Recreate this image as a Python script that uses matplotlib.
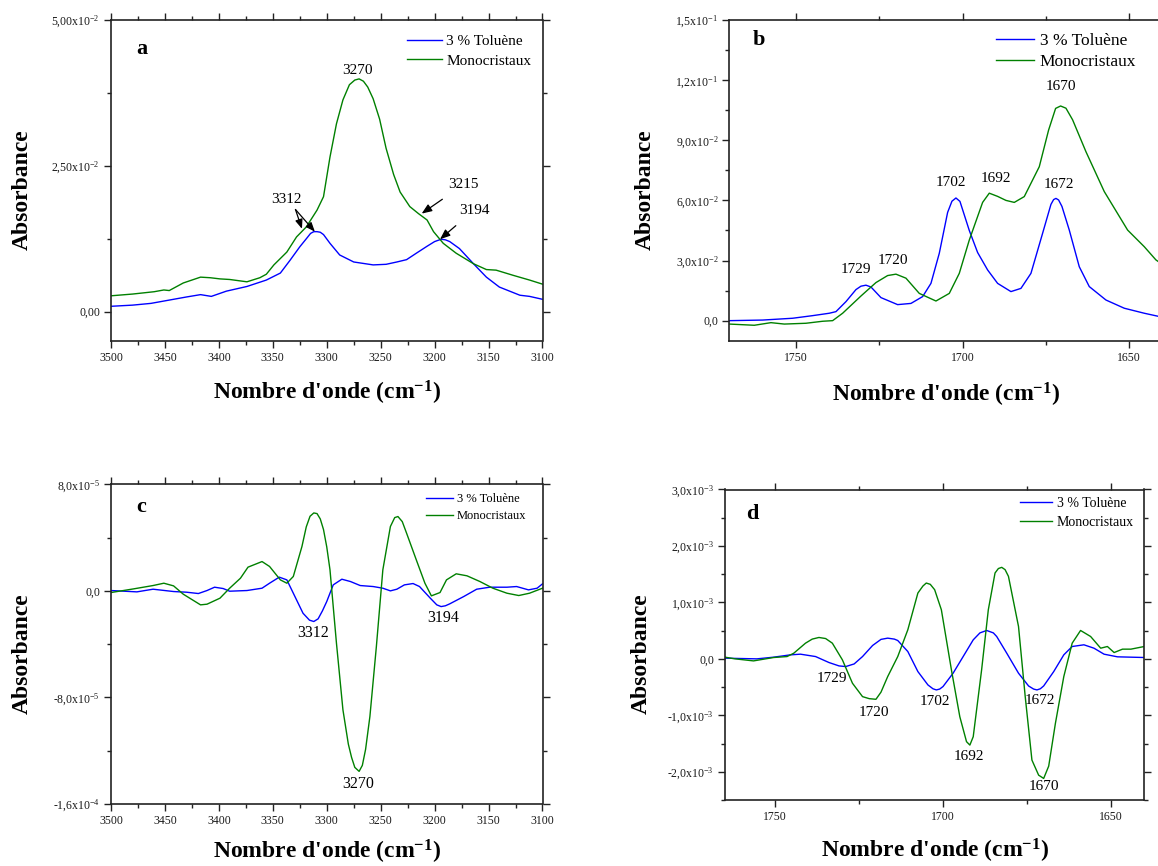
import matplotlib
matplotlib.use("Agg")
import matplotlib.pyplot as plt
from matplotlib.ticker import MultipleLocator
from matplotlib.lines import Line2D

plt.rcParams['font.family'] = ['Liberation Serif', 'DejaVu Serif']
plt.rcParams['mathtext.fontset'] = 'custom'
plt.rcParams['mathtext.rm'] = 'Liberation Serif'
plt.rcParams['mathtext.bf'] = 'Liberation Serif:bold'
plt.rcParams['mathtext.default'] = 'regular'

# ---------------- data ----------------
series_labels = ["3 % Toluène", "Monocristaux"]

# (a) N-H stretching region, absorbance
a_wn_tol = [3500, 3480, 3463, 3442, 3430, 3417, 3407, 3393, 3374, 3356, 3343, 3334,
            3325, 3318, 3315, 3312, 3309, 3306, 3303, 3297, 3288, 3275, 3257, 3245,
            3235, 3226, 3217, 3207, 3200, 3194, 3190, 3186, 3177, 3164, 3152, 3140,
            3121, 3112, 3100]
a_abs_tol = [0.0009, 0.0011, 0.0014, 0.0021, 0.0025, 0.0029, 0.0026, 0.0035, 0.0043,
             0.0054, 0.0066, 0.0088, 0.0111, 0.0127, 0.0134, 0.0137, 0.0137, 0.0136,
             0.0132, 0.0117, 0.0097, 0.0085, 0.0080, 0.0081, 0.0085, 0.0089, 0.0100,
             0.0112, 0.0120, 0.0124, 0.0123, 0.0120, 0.0108, 0.0082, 0.0059, 0.0042,
             0.0028, 0.0026, 0.0021]
a_wn_mono = [3500, 3480, 3460, 3451, 3446, 3433, 3417, 3408, 3399, 3390, 3374, 3362,
             3356, 3349, 3337, 3328, 3319, 3309, 3303, 3297, 3291, 3285, 3279, 3274,
             3270, 3266, 3262, 3257, 3251, 3245, 3238, 3232, 3223, 3215, 3207, 3201,
             3192, 3180, 3164, 3152, 3143, 3127, 3112, 3100]
a_abs_mono = [0.0027, 0.0030, 0.0034, 0.0037, 0.0036, 0.0049, 0.0059, 0.0058, 0.0056,
              0.0055, 0.0051, 0.0058, 0.0064, 0.0080, 0.0102, 0.0128, 0.0145, 0.0174,
              0.0197, 0.0265, 0.0322, 0.0363, 0.0389, 0.0397, 0.0399, 0.0395, 0.0385,
              0.0365, 0.0330, 0.0280, 0.0235, 0.0205, 0.0180, 0.0168, 0.0157, 0.0137,
              0.0117, 0.0100, 0.0082, 0.0072, 0.0071, 0.0062, 0.0054, 0.0047]

# (b) C=O stretching region, absorbance
b_wn_tol = [1770, 1760, 1751, 1745, 1740, 1738, 1735, 1732, 1730.5, 1729, 1727.5, 1724.5,
            1719.5, 1715.5, 1712, 1709.5, 1707, 1704.5, 1703.2, 1702, 1700.8, 1698,
            1695.5, 1692.5, 1689.5, 1685.5, 1682.5, 1679.5, 1676, 1673.5, 1672.7, 1672,
            1671.2, 1670.2, 1668, 1665, 1662, 1657, 1651.5, 1645.5, 1640]
b_abs_tol = [0.0, 0.0003, 0.0012, 0.0025, 0.0037, 0.0045, 0.0095, 0.0155, 0.0172, 0.0177,
             0.0168, 0.0115, 0.0080, 0.0086, 0.0120, 0.0186, 0.0336, 0.0540, 0.0596,
             0.0612, 0.0595, 0.0450, 0.0340, 0.0253, 0.0186, 0.0145, 0.0161, 0.0236,
             0.0436, 0.0580, 0.0604, 0.0610, 0.0602, 0.0570, 0.0452, 0.0269, 0.0170,
             0.0103, 0.0062, 0.0037, 0.0017]
b_wn_mono = [1770, 1762.5, 1757.5, 1753.5, 1747, 1742, 1739, 1736, 1730.5, 1726, 1722.5,
             1720, 1717, 1713, 1708, 1704, 1701, 1698, 1694, 1692, 1689.5, 1687, 1684.5,
             1681.5, 1677, 1674.2, 1672.1, 1670.6, 1669, 1667, 1663, 1657.5, 1650.5,
             1645.5, 1642, 1640]
b_abs_mono = [-0.0017, -0.0023, -0.0010, -0.0017, -0.0013, -0.0003, 0.0, 0.0037, 0.0123,
              0.0190, 0.0225, 0.0232, 0.0212, 0.0136, 0.0098, 0.0136, 0.0236, 0.0402,
              0.0590, 0.0636, 0.0620, 0.0600, 0.0590, 0.0619, 0.0768, 0.0951, 0.1059,
              0.1071, 0.1060, 0.1002, 0.0843, 0.0644, 0.0452, 0.0369, 0.0303, 0.0280]

# (c) second derivative, N-H region
c_wn_tol = [3500, 3476, 3461, 3442, 3430, 3419, 3411, 3404, 3396, 3390, 3374, 3360, 3353,
            3344, 3337, 3331, 3322, 3316, 3312, 3308, 3304, 3300, 3294, 3286, 3278, 3269,
            3257, 3248, 3241, 3235, 3228, 3220, 3214, 3204, 3198, 3194, 3190, 3186, 3173,
            3161, 3149, 3133, 3124, 3113, 3105, 3100]
c_abs_tol = [0.025e-5, -0.075e-5, 0.125e-5, -0.05e-5, -0.1e-5, -0.2e-5, 0.025e-5,
             0.275e-5, 0.175e-5, -0.025e-5, 0.025e-5, 0.2e-5, 0.575e-5, 1.03e-5,
             0.825e-5, -0.175e-5, -1.68e-5, -2.2e-5, -2.3e-5, -2.1e-5, -1.5e-5, -0.8e-5,
             0.45e-5, 0.875e-5, 0.7e-5, 0.4e-5, 0.325e-5, 0.2e-5, 0.0, 0.125e-5,
             0.45e-5, 0.55e-5, 0.325e-5, -0.55e-5, -1.05e-5, -1.18e-5, -1.12e-5,
             -0.975e-5, -0.425e-5, 0.125e-5, 0.275e-5, 0.275e-5, 0.325e-5, 0.075e-5,
             0.2e-5, 0.525e-5]
c_wn_mono = [3500, 3479, 3461, 3451, 3442, 3433, 3417, 3411, 3399, 3390, 3380, 3373, 3360,
             3353, 3343, 3337, 3331, 3323, 3319, 3315.5, 3312, 3309, 3306, 3303, 3300,
             3297, 3291, 3285, 3280, 3277, 3274, 3270, 3267, 3264, 3260, 3254, 3248, 3241,
             3237, 3234, 3230, 3226, 3217, 3209, 3203, 3195, 3189, 3180, 3170, 3158, 3146,
             3133, 3122, 3112, 3100]
c_abs_mono = [-0.125e-5, 0.15e-5, 0.4e-5, 0.575e-5, 0.375e-5, -0.25e-5, -1.05e-5,
              -1.0e-5, -0.55e-5, 0.2e-5, 0.95e-5, 1.78e-5, 2.2e-5, 1.83e-5, 0.825e-5,
              0.575e-5, 1.08e-5, 3.33e-5, 4.8e-5, 5.6e-5, 5.85e-5, 5.8e-5, 5.4e-5, 4.6e-5,
              3.3e-5, 1.58e-5, -3.93e-5, -8.93e-5, -11.5e-5, -12.5e-5, -13.25e-5,
              -13.55e-5, -13.1e-5, -11.9e-5, -9.43e-5, -4.18e-5, 1.58e-5, 4.83e-5, 5.5e-5,
              5.58e-5, 5.2e-5, 4.33e-5, 2.33e-5, 0.575e-5, -0.375e-5, -0.125e-5,
              0.825e-5, 1.28e-5, 1.13e-5, 0.7e-5, 0.2e-5, -0.175e-5, -0.35e-5,
              -0.175e-5, 0.2e-5]

# (d) second derivative, C=O region
d_wn_tol = [1765, 1755.5, 1750.5, 1745.5, 1742.5, 1738, 1734, 1731, 1729, 1726.5, 1724,
            1721, 1718.5, 1716.5, 1714.5, 1713.5, 1710.5, 1707.5, 1704.5, 1703, 1702,
            1701, 1700, 1697, 1694, 1691, 1689, 1687, 1685, 1684, 1681, 1677.5, 1674.5,
            1673, 1672, 1671, 1670, 1667, 1664, 1661.5, 1658, 1655, 1652, 1648, 1640]
d_abs_tol = [0.12e-4, 0.0, 0.3e-4, 0.71e-4, 0.83e-4, 0.41e-4, -0.65e-4, -1.25e-4,
             -1.36e-4, -0.9e-4, 0.41e-4, 2.37e-4, 3.45e-4, 3.67e-4, 3.5e-4, 3.25e-4,
             1.3e-4, -2.25e-4, -4.62e-4, -5.3e-4, -5.5e-4, -5.35e-4, -4.9e-4, -2.54e-4,
             0.41e-4, 3.37e-4, 4.6e-4, 5.03e-4, 4.6e-4, 3.96e-4, 1.0e-4, -2.54e-4,
             -4.8e-4, -5.35e-4, -5.5e-4, -5.3e-4, -4.8e-4, -2.25e-4, 0.71e-4, 2.19e-4,
             2.49e-4, 1.89e-4, 0.83e-4, 0.36e-4, 0.24e-4]
d_wn_mono = [1765, 1762, 1756.5, 1753.5, 1750.5, 1746.5, 1744.5, 1741, 1739, 1737, 1735,
             1733, 1730, 1727, 1724, 1722, 1720, 1718.5, 1716.5, 1713.5, 1710.5, 1707.5,
             1706, 1705, 1703.8, 1702.5, 1700.5, 1697.5, 1695, 1693, 1692, 1691, 1688.5,
             1686.5, 1684.5, 1683.5, 1682.5, 1681.5, 1680.5, 1677.5, 1675.5, 1673.5,
             1671.5, 1670, 1668.5, 1666.5, 1664, 1661.5, 1659, 1656, 1653, 1651, 1649,
             1646.5, 1644, 1640]
d_abs_mono = [0.3e-4, 0.0, -0.36e-4, -0.06e-4, 0.24e-4, 0.41e-4, 1.0e-4, 2.78e-4, 3.5e-4,
              3.79e-4, 3.6e-4, 2.78e-4, -0.18e-4, -4.32e-4, -6.69e-4, -7.05e-4, -7.16e-4,
              -5.9e-4, -3.14e-4, 0.41e-4, 5.15e-4, 11.66e-4, 12.9e-4, 13.43e-4, 13.2e-4,
              12.25e-4, 8.7e-4, -1.95e-4, -10.24e-4, -14.67e-4, -15.27e-4, -13.79e-4,
              -1.95e-4, 8.7e-4, 15.21e-4, 16.0e-4, 16.21e-4, 15.8e-4, 14.62e-4, 5.74e-4,
              -6.69e-4, -17.93e-4, -20.6e-4, -21.18e-4, -19.0e-4, -11.42e-4, -3.14e-4,
              2.78e-4, 5.03e-4, 3.96e-4, 1.89e-4, 2.19e-4, 1.12e-4, 1.72e-4, 1.72e-4,
              2.19e-4]

# tick values and labels
a_yticks = [0.0, 0.025, 0.05]
a_ylabels = ["0,00", "2,50x10$^{-2}$", "5,00x10$^{-2}$"]
b_yticks = [0.0, 0.03, 0.06, 0.09, 0.12, 0.15]
b_ylabels = ["0,0", "3,0x10$^{-2}$", "6,0x10$^{-2}$", "9,0x10$^{-2}$",
             "1,2x10$^{-1}$", "1,5x10$^{-1}$"]
c_yticks = [-1.6e-4, -8e-5, 0.0, 8e-5]
c_ylabels = ["-1,6x10$^{-4}$", "-8,0x10$^{-5}$", "0,0", "8,0x10$^{-5}$"]
d_yticks = [-2e-3, -1e-3, 0.0, 1e-3, 2e-3, 3e-3]
d_ylabels = ["-2,0x10$^{-3}$", "-1,0x10$^{-3}$", "0,0", "1,0x10$^{-3}$",
             "2,0x10$^{-3}$", "3,0x10$^{-3}$"]
nh_xticks = [3500, 3450, 3400, 3350, 3300, 3250, 3200, 3150, 3100]
co_xticks = [1750, 1700, 1650]

# band assignments written on the curves: (label, x, y)
a_marks = [("3270", 3272, 0.0414)]
b_marks = [("1729", 1732, 0.0253), ("1720", 1721, 0.0298), ("1702", 1703.5, 0.0688),
           ("1692", 1690, 0.0710), ("1672", 1671, 0.0677), ("1670", 1670.5, 0.1170)]
c_marks = [("3312", 3313, -3.2e-5), ("3194", 3192.5, -2.0e-5), ("3270", 3271, -1.45e-4)]
d_marks = [("1729", 1733, -3.43e-4), ("1720", 1720.5, -9.47e-4), ("1702", 1702.3, -7.63e-4),
           ("1692", 1692.3, -1.734e-3), ("1672", 1671, -7.4e-4), ("1670", 1669.8, -2.266e-3)]

BLUE = "#0000ff"
GREEN = "#008000"
W, H = 1158, 866

fig = plt.figure(figsize=(W / 100, H / 100), dpi=100)


def px_axes(left, top, right, bottom):
    return fig.add_axes([left / W, 1 - bottom / H, (right - left) / W, (bottom - top) / H])


def style(ax, xlim, ylim, xticks, xminor, yticks, ylabels, yminor, letter, letter_pos,
          legend_pos, legend_fs, handlelen, spacing, ylabel_pos, xlabel_pos):
    ax.set_xlim(*xlim)
    ax.set_ylim(*ylim)
    ax.set_xticks(xticks)
    ax.set_xticklabels([str(t) for t in xticks])
    ax.xaxis.set_minor_locator(MultipleLocator(xminor))
    ax.set_yticks(yticks)
    ax.set_yticklabels(ylabels)
    ax.yaxis.set_minor_locator(MultipleLocator(yminor))
    for s in ax.spines.values():
        s.set_linewidth(1.2)
        s.set_color("#222222")
    ax.tick_params(which="both", direction="out", labelsize=8.5, labelcolor="#1a1a1a",
                   color="#222222", width=1.0)
    ax.tick_params(which="major", length=5, pad=3)
    ax.tick_params(which="minor", length=3)
    # mirrored ticks on the top and right frame
    ax.tick_params(which="both", top=True, right=True, labeltop=False, labelright=False)
    ax.set_ylabel("Absorbance", fontsize=17, fontweight="bold")
    ax.yaxis.set_label_coords(*ylabel_pos)
    ax.set_xlabel("Nombre d'onde (cm$^{-1}$)", fontsize=17, fontweight="bold")
    ax.xaxis.set_label_coords(*xlabel_pos)
    ax.text(letter_pos[0], letter_pos[1], letter, transform=ax.transAxes, fontsize=16,
            fontweight="bold", ha="center", va="center")
    handles = [Line2D([], [], color=BLUE, lw=1.0), Line2D([], [], color=GREEN, lw=1.0)]
    ax.legend(handles, series_labels, loc="upper left", bbox_to_anchor=legend_pos,
              frameon=False, fontsize=legend_fs, handlelength=handlelen,
              handletextpad=0.3, labelspacing=spacing, borderpad=0, borderaxespad=0)


# ---- (a)
ax_a = px_axes(111, 20, 542.5, 340.7)
ax_a.plot(a_wn_tol, a_abs_tol, color=BLUE, lw=1.0)
ax_a.plot(a_wn_mono, a_abs_mono, color=GREEN, lw=1.0)
style(ax_a, (3500, 3100), (-0.005, 0.05), nh_xticks, 25, a_yticks, a_ylabels, 0.0125,
      "a", (0.0725, 0.911), (0.685, 0.955), 11, 2.3, 0.38, (-0.181, 0.47), (0.5, -0.118))
for txt, x, y in a_marks:
    ax_a.text(x, y, txt, fontsize=11, ha="center", va="center")
arrow = dict(arrowstyle="-|>,head_length=0.55,head_width=0.22", color="black", lw=0.9,
             shrinkA=0, shrinkB=0)
ax_a.text(3337, 0.0192, "3312", fontsize=11, ha="center", va="center")
ax_a.annotate("", xy=(3323, 0.0142), xytext=(3329, 0.0175), arrowprops=arrow)
ax_a.annotate("", xy=(3311, 0.0137), xytext=(3329, 0.0175), arrowprops=arrow)
ax_a.annotate("3215", xy=(3212, 0.0168), xytext=(3173, 0.0218), fontsize=11,
              ha="center", va="center",
              arrowprops=dict(arrow, shrinkA=7))
ax_a.annotate("3194", xy=(3195, 0.0124), xytext=(3163.5, 0.0174), fontsize=11,
              ha="center", va="center",
              arrowprops=dict(arrow, shrinkA=7))

# ---- (b)
ax_b = px_axes(729.3, 20, 1162.6, 340.7)
ax_b.plot(b_wn_tol, b_abs_tol, color=BLUE, lw=1.0)
ax_b.plot(b_wn_mono, b_abs_mono, color=GREEN, lw=1.0)
style(ax_b, (1770, 1640), (-0.01, 0.15), co_xticks, 25, b_yticks, b_ylabels, 0.015,
      "b", (0.069, 0.9375), (0.616, 0.96), 12.5, 2.2, 0.3, (-0.169, 0.47), (0.5, -0.125))
for txt, x, y in b_marks:
    ax_b.text(x, y, txt, fontsize=11, ha="center", va="center")

# ---- (c)
ax_c = px_axes(111, 484.3, 542.5, 804)
ax_c.plot(c_wn_tol, c_abs_tol, color=BLUE, lw=1.0)
ax_c.plot(c_wn_mono, c_abs_mono, color=GREEN, lw=1.0)
style(ax_c, (3500, 3100), (-1.6e-4, 8e-5), nh_xticks, 25, c_yticks, c_ylabels, 4e-5,
      "c", (0.07, 0.928), (0.729, 0.972), 9, 2.2, 0.4, (-0.181, 0.47), (0.5, -0.106))
for txt, x, y in c_marks:
    ax_c.text(x, y, txt, fontsize=11.5, ha="center", va="center")

# ---- (d)
ax_d = px_axes(725, 489.5, 1144.3, 800)
ax_d.plot(d_wn_tol, d_abs_tol, color=BLUE, lw=1.0)
ax_d.plot(d_wn_mono, d_abs_mono, color=GREEN, lw=1.0)
style(ax_d, (1765, 1640), (-2.5e-3, 3e-3), co_xticks, 25, d_yticks, d_ylabels, 5e-4,
      "d", (0.066, 0.921), (0.703, 0.975), 10, 2.35, 0.38, (-0.175, 0.47), (0.5, -0.118))
for txt, x, y in d_marks:
    ax_d.text(x, y, txt, fontsize=11, ha="center", va="center")

fig.savefig("out.png", dpi=100)
